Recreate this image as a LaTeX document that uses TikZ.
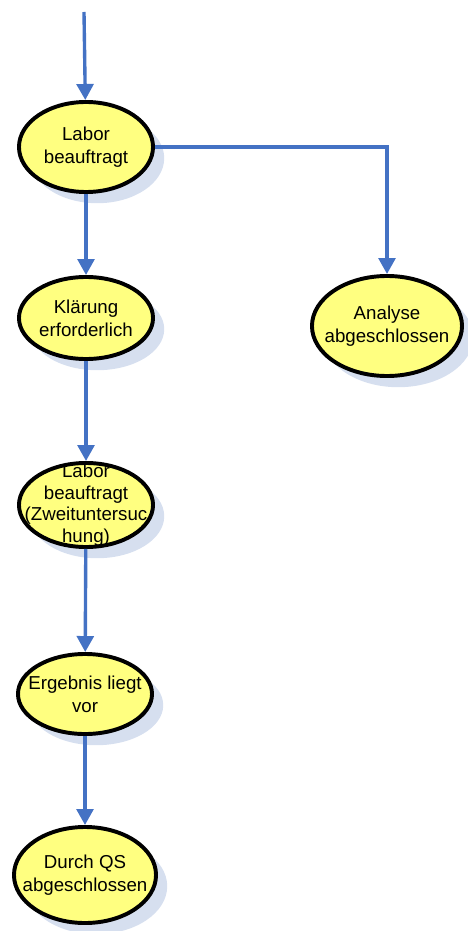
\documentclass[tikz,border=0pt]{standalone}
\usepackage{fontspec}
\setmainfont{Liberation Sans}
\usetikzlibrary{arrows.meta, shapes.geometric, shadows}
\definecolor{flowblue}{HTML}{4472C4}
\definecolor{stateyellow}{HTML}{FFFF80}
\definecolor{shadowblue}{HTML}{D6DFEF}
\tikzset{
  phase/.style={ellipse, draw=black, line width=2.8pt, fill=stateyellow, inner sep=0pt,
    minimum width=3.35cm, minimum height=2.2cm,
    general shadow={fill=shadowblue, shadow xshift=0.28cm, shadow yshift=-0.28cm}},
  phasetext/.style={font=\fontsize{13.3}{16.3}\selectfont, align=center, inner sep=0pt, text=black},
  arrow/.style={-{Triangle[length=0.4cm, width=0.42cm]}, line width=2.4pt, flowblue},
}

\begin{document}
\begin{tikzpicture}[x=0.025cm, y=-0.025cm]
\useasboundingbox (0,0) rectangle (467,931);
\coordinate (start) at (84,12);
\node[phase, minimum height=2.25cm] (labor) at (86,147)
  [label={[phasetext]center:Labor\\beauftragt}] {};
\node[phase, minimum height=2.05cm] (klaerung) at (86,318)
  [label={[phasetext]center:Klärung\\erforderlich}] {};
\node[phase, minimum width=3.75cm, minimum height=2.5cm] (analyse) at (387,326)
  [label={[phasetext]center:Analyse\\abgeschlossen}] {};
\node[phase, minimum height=2.1cm] (zweit) at (86,505)
  [label={[phasetext, font=\fontsize{13.3}{15.3}\selectfont]center:Labor\\beauftragt\\(Zweituntersuc\\hung)}] {};
\node[phase, minimum height=2.0cm] (ergebnis) at (85,694)
  [label={[phasetext]center:Ergebnis liegt\\vor}] {};
\node[phase, minimum width=3.55cm, minimum height=2.4cm] (qs) at (85,875)
  [label={[phasetext]center:Durch QS\\abgeschlossen}] {};

\draw[arrow] (start) -- (labor);
\draw[arrow] (labor) -- (klaerung);
\draw[arrow] (labor.east) -| (analyse.north);
\draw[arrow] (klaerung) -- (zweit);
\draw[arrow] (zweit) -- (ergebnis);
\draw[arrow] (ergebnis) -- (qs);
\end{tikzpicture}
\end{document}
